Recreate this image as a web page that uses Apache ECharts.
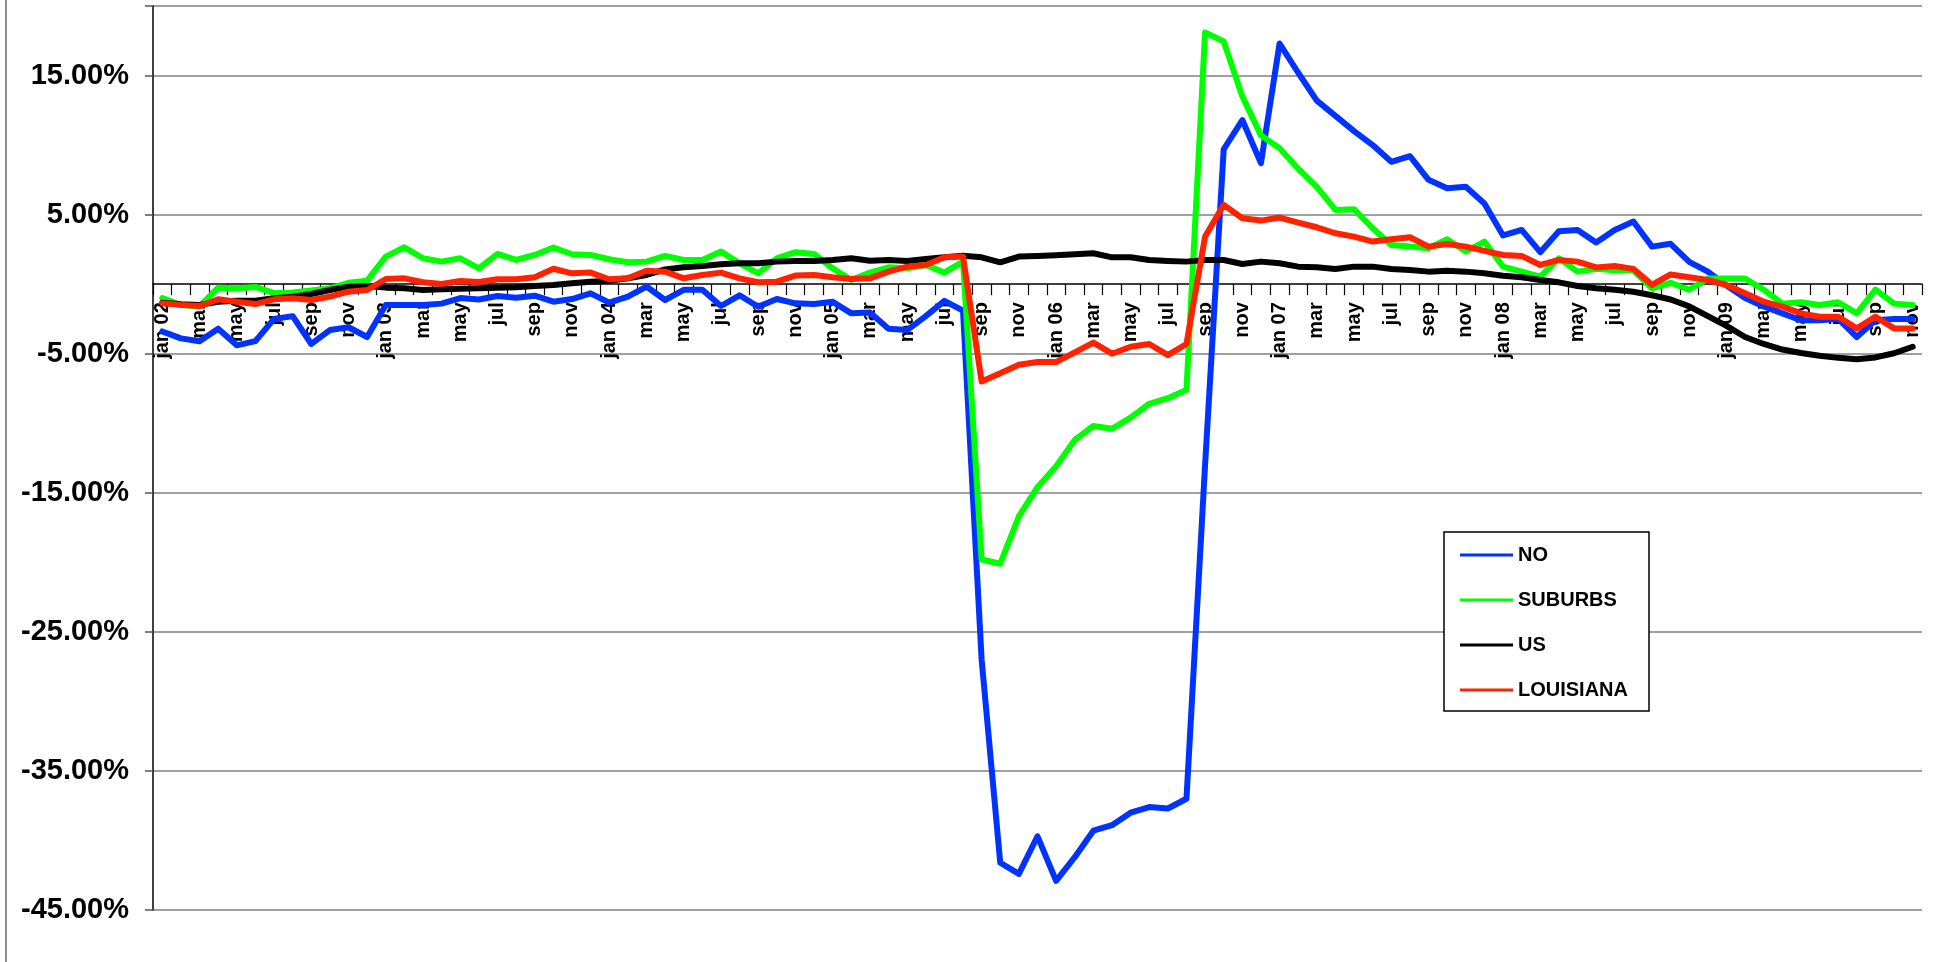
<!DOCTYPE html>
<html>
<head>
<meta charset="utf-8">
<script src="https://cdn.jsdelivr.net/npm/echarts@6/dist/echarts.min.js"></script>
<style>
html,body{margin:0;padding:0;background:#fff;}
#chart{width:1934px;height:962px;}
</style>
</head>
<body>
<div id="chart"></div>
<script>
// ---- tick labels ----
const monthNames = ['jan','feb','mar','apr','may','jun','jul','aug','sep','oct','nov','dec'];
const yearNames = ['02','03','04','05','06','07','08','09'];
const monthCount = 95; // jan 02 .. nov 09

// ---- value axis ----
const yMin = -45, yMax = 20, yStep = 10;

// ---- series values (%) ----
const NO = [
 -3.4,-3.9,-4.1,-3.2,-4.4,-4.1,-2.5,-2.3,-4.3,-3.3,-3.1,-3.8,
 -1.5,-1.5,-1.5,-1.4,-1.0,-1.1,-0.85,-0.97,-0.83,-1.26,-1.07,-0.66,
 -1.33,-0.9,-0.17,-1.14,-0.41,-0.41,-1.57,-0.8,-1.62,-1.07,-1.38,-1.43,
 -1.26,-2.1,-2.03,-3.2,-3.3,-2.3,-1.2,-1.9,-27,-41.6,-42.4,-39.7,
 -42.9,-41.2,-39.3,-38.9,-38.0,-37.6,-37.7,-37.0,-13,9.7,11.8,8.7,
 17.3,15.2,13.2,12.1,11.0,10.0,8.8,9.2,7.5,6.9,7.0,5.8,
 3.5,3.9,2.3,3.8,3.9,3.0,3.9,4.5,2.7,2.9,1.6,0.9,
 -0.1,-1.0,-1.6,-2.1,-2.6,-2.6,-2.5,-3.8,-2.6,-2.5,-2.5
];
const SUBURBS = [
 -1.0,-1.5,-1.6,-0.25,-0.3,-0.2,-0.65,-0.6,-0.45,-0.3,0.1,0.25,
 1.98,2.65,1.86,1.62,1.86,1.14,2.17,1.74,2.1,2.63,2.15,2.1,
 1.79,1.57,1.62,2.03,1.74,1.74,2.34,1.5,0.78,1.86,2.3,2.17,
 1.14,0.3,0.83,1.21,1.14,1.38,0.83,1.62,-19.8,-20.1,-16.7,-14.6,
 -13.1,-11.2,-10.2,-10.4,-9.6,-8.6,-8.2,-7.6,18.1,17.45,13.5,10.7,
 9.77,8.3,7.0,5.34,5.39,4.02,2.82,2.7,2.58,3.23,2.34,3.06,
 1.26,0.9,0.54,1.86,0.9,1.1,1.0,1.0,-0.3,0.1,-0.4,0.4,
 0.4,0.4,-0.4,-1.4,-1.3,-1.5,-1.3,-2.1,-0.4,-1.4,-1.5
];
const US = [
 -1.33,-1.45,-1.49,-1.26,-1.19,-1.19,-1.02,-0.9,-0.71,-0.42,-0.18,-0.13,
 -0.25,-0.3,-0.42,-0.37,-0.33,-0.3,-0.25,-0.23,-0.13,-0.06,0.06,0.18,
 0.25,0.42,0.66,1.06,1.21,1.31,1.43,1.5,1.5,1.62,1.67,1.67,
 1.74,1.86,1.69,1.74,1.67,1.81,1.93,2.05,1.93,1.57,1.98,2.03,
 2.08,2.15,2.22,1.93,1.93,1.74,1.67,1.62,1.74,1.74,1.45,1.62,
 1.5,1.26,1.21,1.09,1.26,1.26,1.09,1.02,0.9,0.97,0.9,0.78,
 0.61,0.49,0.3,0.13,-0.13,-0.3,-0.4,-0.55,-0.8,-1.1,-1.6,-2.3,
 -3.0,-3.8,-4.3,-4.7,-4.95,-5.15,-5.3,-5.4,-5.27,-4.97,-4.5
];
const LOUISIANA = [
 -1.38,-1.49,-1.57,-1.09,-1.26,-1.43,-1.09,-1.02,-1.14,-0.9,-0.54,-0.42,
 0.37,0.42,0.14,0.02,0.23,0.16,0.35,0.35,0.49,1.11,0.78,0.83,
 0.35,0.42,0.97,0.9,0.42,0.66,0.83,0.42,0.14,0.18,0.62,0.66,
 0.49,0.37,0.42,0.9,1.26,1.38,1.93,1.98,-7.0,-6.4,-5.8,-5.6,
 -5.6,-4.9,-4.2,-5.0,-4.5,-4.3,-5.1,-4.3,3.42,5.7,4.74,4.57,
 4.79,4.43,4.09,3.66,3.42,3.06,3.23,3.37,2.7,2.89,2.7,2.39,
 2.1,2.03,1.38,1.74,1.62,1.2,1.3,1.1,-0.05,0.7,0.5,0.3,
 -0.06,-0.66,-1.26,-1.62,-2.1,-2.34,-2.34,-3.18,-2.34,-3.18,-3.18
];

const categories = [];
for (let i = 0; i < monthCount; i++) {
  const m = i % 12, y = Math.floor(i / 12);
  categories.push(m === 0 ? monthNames[m] + ' ' + yearNames[y] : monthNames[m]);
}

const W = 1934, H = 962;
const gridTop = 6, gridBottom = 52;
const plotH = H - gridTop - gridBottom;
// move the category axis (line, ticks, labels) up to the zero line
const xOffset = -plotH * (0 - yMin) / (yMax - yMin);

const FONT = '"Liberation Sans", Arial, sans-serif';
const chart = echarts.init(document.getElementById('chart'), null, {renderer: 'canvas', width: W, height: H});

function mk(name, data, color) {
  return {
    name: name, type: 'line', data: data, symbol: 'none',
    lineStyle: {color: color, width: 6, join: 'round', cap: 'round'},
    itemStyle: {color: color},
    emphasis: {disabled: true}
  };
}

chart.setOption({
  animation: false,
  backgroundColor: '#ffffff',
  grid: {left: 153, right: 12, top: gridTop, bottom: gridBottom, containLabel: false, outerBoundsMode: 'none'},
  graphic: [{
    type: 'line', silent: true,
    shape: {x1: 6, y1: 0, x2: 6, y2: H},
    style: {stroke: '#8c8c8c', lineWidth: 2}
  }],
  legend: {
    orient: 'vertical',
    left: 1444, top: 532,
    padding: [13, 21, 11, 16],
    itemWidth: 53, itemHeight: 20, itemGap: 25,
    icon: 'path://M0,0H53V3H0Z',
    backgroundColor: '#ffffff',
    borderColor: '#000000', borderWidth: 1.5,
    textStyle: {fontFamily: FONT, fontWeight: 'bold', fontSize: 20, color: '#000', lineHeight: 20},
    data: ['NO', 'SUBURBS', 'US', 'LOUISIANA']
  },
  xAxis: {
    type: 'category',
    data: categories,
    boundaryGap: true,
    position: 'bottom',
    offset: xOffset,
    axisLine: {onZero: false, lineStyle: {color: '#000', width: 1.5}},
    axisTick: {show: true, interval: 0, length: 11, lineStyle: {color: '#000', width: 1.2}},
    axisLabel: {
      interval: 1, rotate: 90, margin: 18,
      fontFamily: FONT, fontWeight: 'bold', fontSize: 20, color: '#000'
    },
    splitLine: {show: false}
  },
  yAxis: {
    type: 'value',
    min: yMin, max: yMax, interval: yStep,
    axisLine: {show: true, lineStyle: {color: '#000', width: 1.5}},
    axisTick: {show: true, length: 8, lineStyle: {color: '#555', width: 1.5}},
    axisLabel: {
      margin: 24,
      fontFamily: FONT, fontWeight: 'bold', fontSize: 29, color: '#000',
      formatter: function (v) { return v === yMax ? '' : v.toFixed(2) + '%'; }
    },
    splitLine: {show: true, lineStyle: {color: '#808080', width: 1.5}}
  },
  series: [
    mk('NO', NO, '#0033ff'),
    mk('SUBURBS', SUBURBS, '#00ff00'),
    mk('US', US, '#000000'),
    mk('LOUISIANA', LOUISIANA, '#ff2200')
  ]
});
</script>
</body>
</html>
